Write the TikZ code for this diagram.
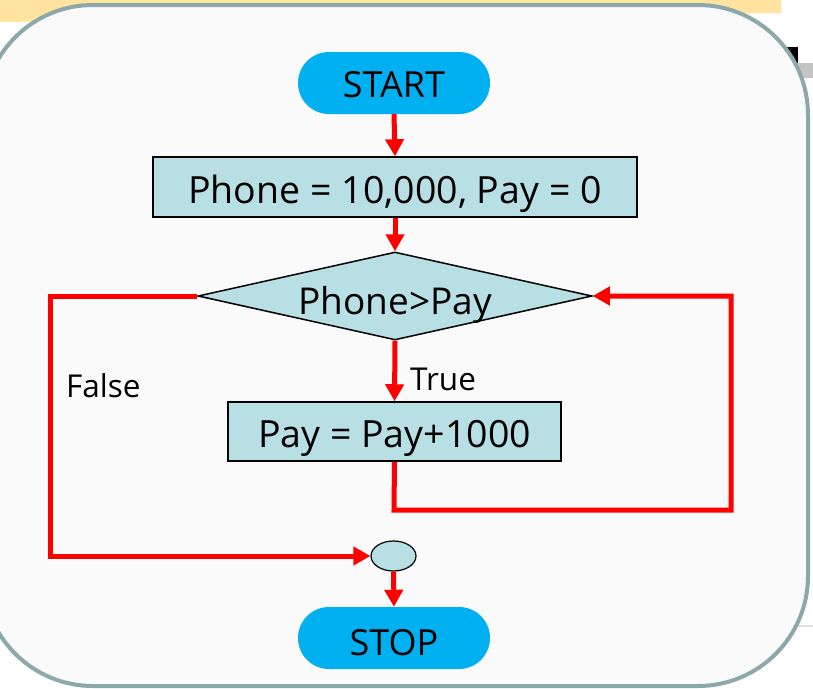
\documentclass[tikz,border=0pt]{standalone}
\usepackage{fontspec}
\setmainfont{Open Sans}
\usetikzlibrary{arrows.meta,shapes.geometric}

\definecolor{panelfill}{HTML}{FAFAFA}
\definecolor{panelline}{HTML}{8CA8A8}
\definecolor{tabyellow}{HTML}{FFE4A0}
\definecolor{boxfill}{HTML}{B8DFE3}
\definecolor{termblue}{HTML}{00B0F0}
\definecolor{flowred}{HTML}{FF0000}

\tikzset{
  terminal/.style={rectangle, rounded corners=31pt, fill=termblue,
    minimum width=192pt, minimum height=62pt, inner sep=0pt,
    text depth=0pt, font=\fontsize{36}{40}\selectfont},
  process/.style={rectangle, draw=black, line width=1.5pt, fill=boxfill,
    inner sep=0pt, text height=32pt, text depth=0pt,
    font=\fontsize{37.5}{42}\selectfont},
  decision/.style={diamond, draw=black, line width=1.5pt, fill=boxfill,
    inner sep=0pt, minimum width=394pt, minimum height=88pt, aspect=4.48,
    text height=36pt, text depth=0pt, font=\fontsize{37}{42}\selectfont},
  joint/.style={ellipse, draw=black, line width=1.2pt, fill=boxfill,
    minimum width=45pt, minimum height=30pt, inner sep=0pt},
  flow/.style={draw=flowred, line width=5pt, line join=miter,
    -{Triangle[length=17pt,width=18pt]}},
  flowlabel/.style={font=\fontsize{31.5}{36}\selectfont, inner sep=0pt,
    anchor=base west}
}

\begin{document}
\begin{tikzpicture}[x=1pt,y=-1pt]
  \useasboundingbox (0,0) rectangle (813,688);
  \clip (0,0) rectangle (813,688);
  \fill[white] (0,0) rectangle (813,688);

  % pieces of the slide showing behind the panel
  \fill[tabyellow] (0,0) -- (781,0) -- (781,13) -- (0,22) -- cycle;
  \fill[black] (787,47) rectangle (798,63);
  \fill[black!23] (785,63) rectangle (813,78);
  \draw[black!12, line width=2pt] (785,626) -- (813,626);

  % rounded panel
  \draw[panelline, fill=panelfill, line width=4pt, rounded corners=110pt]
    (-17,5) rectangle (808,686);

  % flowchart nodes
  \node[terminal, text height=28pt] (start) at (394,83) {START};
  \node[process, minimum width=484pt, minimum height=60pt] (init) at (395,187)
    {Phone = 10,000, Pay = 0};
  \node[decision] (test) at (395,296) {Phone>Pay};
  \node[process, minimum width=333pt, minimum height=59pt] (inc) at (394.5,431.5)
    {Pay = Pay+1000};
  \node[joint] (merge) at (393.5,556) {};
  \node[terminal, text height=34pt] (stop) at (394,638) {STOP};

  % loop corners
  \coordinate (loopdown) at (394,510);
  \coordinate (loopright) at (731,510);
  \coordinate (falseleft) at (50,296);

  % connectors
  \draw[flow] (start.south) -- (init.north);
  \draw[flow] (init.south) -- (test.north);
  \draw[flow] (test.south) -- (inc.north);
  \draw[flow] (inc.south) -- (loopdown) -- (loopright) |- (test.east);
  \draw[flow] (test.west) -- (falseleft) |- (merge.west);
  \draw[flow] (merge.south) -- (stop.north);

  % branch labels
  \node[flowlabel] (truetext) at (410,390) {True};
  \node[flowlabel] (falsetext) at (66,397) {False};
\end{tikzpicture}
\end{document}
